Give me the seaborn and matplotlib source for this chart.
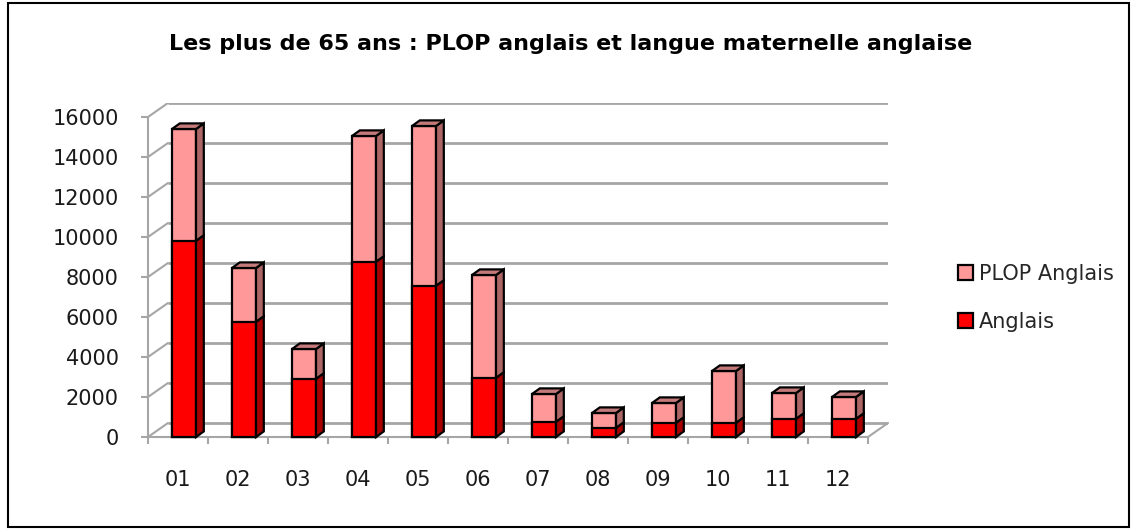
import numpy as np
import pandas as pd
import matplotlib
matplotlib.use('Agg')
import matplotlib.pyplot as plt
from matplotlib.patches import Polygon, Rectangle, Patch
import seaborn as sns

# Donnees
regions = ['01', '02', '03', '04', '05', '06', '07', '08', '09', '10', '11', '12']
anglais = [9800, 5750, 2900, 8750, 7550, 2950, 750, 450, 700, 700, 900, 900]
plop_anglais = [5600, 2700, 1500, 6300, 8000, 5150, 1400, 750, 1000, 2600, 1300, 1100]
yticks = [0, 2000, 4000, 6000, 8000, 10000, 12000, 14000, 16000]

df = pd.DataFrame({'region': regions, 'anglais': anglais, 'plop': plop_anglais})
df['total'] = df['anglais'] + df['plop']

sns.set_theme(style='white')
plt.rcParams['font.family'] = ['DejaVu Sans']

c_red, c_red_side = '#FF0000', '#A80000'
c_pink, c_pink_side, c_pink_top = '#FF9999', '#AD6666', '#C47A7A'
c_grid = '#A6A6A6'

W, H = 1135, 529
fig = plt.figure(figsize=(W / 100, H / 100), dpi=100)

# profondeur 3D (en unites de donnees)
wall_dx, wall_dy = 0.333, 700
bar_dx, bar_dy = 0.13, 280

ax = fig.add_axes([148 / W, (H - 437) / H, 740 / W, 334 / H])
ax.set_xlim(-0.5, 11.5 + wall_dx)
ax.set_ylim(0, 16000 + wall_dy)

# barres (face avant)
sns.barplot(data=df, x='region', y='total', color=c_pink, saturation=1,
            width=0.4, edgecolor='black', linewidth=1.6, ax=ax, zorder=3)
sns.barplot(data=df, x='region', y='anglais', color=c_red, saturation=1,
            width=0.4, edgecolor='black', linewidth=1.6, ax=ax, zorder=3)
ax.set_xlim(-0.5, 11.5 + wall_dx)

n = len(regions)
for i, p in enumerate(ax.patches):
    p.set_x(p.get_x() + 0.1)
    p.set_clip_on(False)
for i, p in enumerate(ax.patches[:n]):
    x0, x1 = p.get_x(), p.get_x() + p.get_width()
    y0, y1 = anglais[i], p.get_height()
    side = [(x1, y0), (x1 + bar_dx, y0 + bar_dy), (x1 + bar_dx, y1 + bar_dy), (x1, y1)]
    top = [(x0, y1), (x0 + bar_dx, y1 + bar_dy), (x1 + bar_dx, y1 + bar_dy), (x1, y1)]
    for pts, c in [(side, c_pink_side), (top, c_pink_top)]:
        ax.add_patch(Polygon(pts, closed=True, facecolor=c, edgecolor='black',
                             linewidth=1.6, zorder=3, clip_on=False))
for i, p in enumerate(ax.patches[n:2 * n]):
    x1 = p.get_x() + p.get_width()
    y1 = p.get_height()
    side = [(x1, 0), (x1 + bar_dx, bar_dy), (x1 + bar_dx, y1 + bar_dy), (x1, y1)]
    ax.add_patch(Polygon(side, closed=True, facecolor=c_red_side, edgecolor='black',
                         linewidth=1.6, zorder=3, clip_on=False))

# murs : quadrillage du fond et diagonales
for yv in yticks:
    ax.plot([-0.5 + wall_dx, 11.5 + wall_dx], [yv + wall_dy, yv + wall_dy],
            color=c_grid, lw=2, zorder=1, solid_capstyle='butt')
    ax.plot([-0.5, -0.5 + wall_dx], [yv, yv + wall_dy], color=c_grid, lw=1.5, zorder=1)
ax.plot([11.5, 11.5 + wall_dx], [0, wall_dy], color=c_grid, lw=1.5, zorder=1, clip_on=False)

sns.despine(ax=ax, top=True, right=True)
ax.spines['left'].set_bounds(0, 16000)
ax.spines['bottom'].set_bounds(-0.5, 11.5)
for s in ['left', 'bottom']:
    ax.spines[s].set_color(c_grid)
    ax.spines[s].set_linewidth(1.5)

ax.set_yticks(yticks)
ax.set_yticklabels([str(v) for v in yticks])
ax.tick_params(axis='y', which='major', left=True, length=5, width=1.5, color=c_grid,
               pad=16, labelsize=15, labelcolor='#1a1a1a')
ax.set_xticks(range(n))
ax.set_xticklabels(regions)
ax.set_xticks(np.arange(-0.5, n, 1), minor=True)
ax.tick_params(axis='x', which='major', bottom=False, length=0, pad=24,
               labelsize=15, labelcolor='#1a1a1a')
ax.tick_params(axis='x', which='minor', bottom=True, length=5, width=1.5, color=c_grid)
ax.set_xlabel('')
ax.set_ylabel('')
ax.grid(False)

# legende
handles = [Patch(facecolor=c_pink, edgecolor='black', linewidth=1.6, label='PLOP Anglais'),
           Patch(facecolor=c_red, edgecolor='black', linewidth=1.6, label='Anglais')]
fig.legend(handles=handles, loc='center left', bbox_to_anchor=(948 / W, (H - 298) / H),
           frameon=False, fontsize=15, handlelength=0.7, handleheight=0.7,
           handletextpad=0.3, labelspacing=1.35, borderpad=0)

fig.text(571 / W, 1 - 44 / H, 'Les plus de 65 ans : PLOP anglais et langue maternelle anglaise',
         ha='center', va='center', fontsize=16, fontweight='bold', color='black')

# cadre
fig.patches.append(Rectangle((8 / W, 2 / H), 1121 / W, 524 / H, transform=fig.transFigure,
                             fill=False, edgecolor='black', linewidth=1.5))

fig.savefig('out.png', dpi=100)
